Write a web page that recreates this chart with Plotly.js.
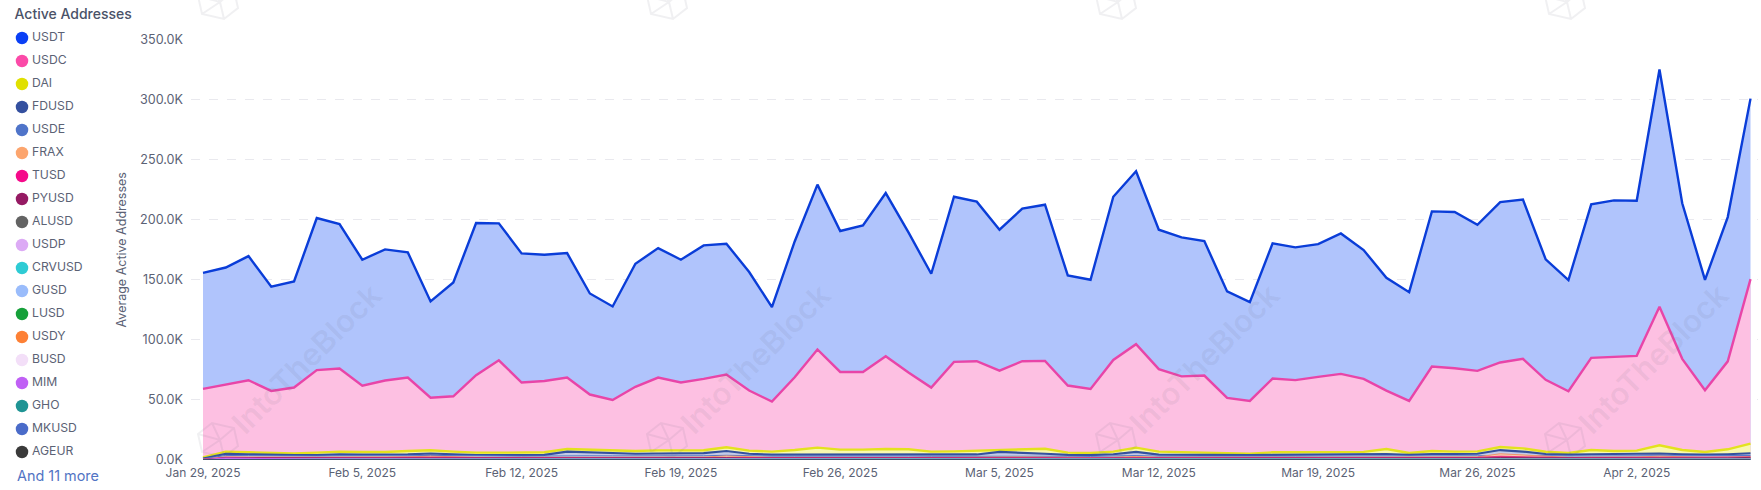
<!DOCTYPE html>
<html><head><meta charset="utf-8">
<script src="https://cdn.plot.ly/plotly-3.0.1.min.js"></script>
<style>html,body{margin:0;padding:0;background:#fff}#c{width:1761px;height:490px}</style></head>
<body><div id="c"></div>
<script>
const dates = ["2025-01-29","2025-01-30","2025-01-31",
"2025-02-01","2025-02-02","2025-02-03","2025-02-04","2025-02-05","2025-02-06","2025-02-07","2025-02-08","2025-02-09","2025-02-10","2025-02-11","2025-02-12","2025-02-13","2025-02-14","2025-02-15","2025-02-16","2025-02-17","2025-02-18","2025-02-19","2025-02-20","2025-02-21","2025-02-22","2025-02-23","2025-02-24","2025-02-25","2025-02-26","2025-02-27","2025-02-28",
"2025-03-01","2025-03-02","2025-03-03","2025-03-04","2025-03-05","2025-03-06","2025-03-07","2025-03-08","2025-03-09","2025-03-10","2025-03-11","2025-03-12","2025-03-13","2025-03-14","2025-03-15","2025-03-16","2025-03-17","2025-03-18","2025-03-19","2025-03-20","2025-03-21","2025-03-22","2025-03-23","2025-03-24","2025-03-25","2025-03-26","2025-03-27","2025-03-28","2025-03-29","2025-03-30","2025-03-31",
"2025-04-01","2025-04-02","2025-04-03","2025-04-04","2025-04-05","2025-04-06","2025-04-07"];
const tickDates = ["2025-01-29","2025-02-05","2025-02-12","2025-02-19","2025-02-26","2025-03-05","2025-03-12","2025-03-19","2025-03-26","2025-04-02"];
const tickLabels = ["Jan 29, 2025","Feb 5, 2025","Feb 12, 2025","Feb 19, 2025","Feb 26, 2025","Mar 5, 2025","Mar 12, 2025","Mar 19, 2025","Mar 26, 2025","Apr 2, 2025"];
const yTicks = [0,50000,100000,150000,200000,250000,300000,350000];
const yLabels = ["0.0K","50.0K","100.0K","150.0K","200.0K","250.0K","300.0K","350.0K"];

// values in thousands of addresses
const USDT = [155.8,160.2,169.7,144.2,148.6,201.4,196.4,166.7,175.3,172.8,132,147.8,197.2,197,172,170.8,172.2,138.6,127.8,163.3,176.4,166.7,178.6,180,156.5,127.2,181.9,229.2,190.6,195.3,222.2,189.4,155,219.1,215,191.7,209.2,212.5,153.6,150,219.1,240.3,191.7,185.3,182.2,140.3,131.4,180.3,177,179.7,188.6,174.7,151.7,139.7,206.9,206.4,195.8,214.7,216.7,167,149.7,212.8,216.1,215.8,325,213.7,150,202.2,300.8];
const USDC = [59.2,63,66.4,57.5,60.3,74.8,76.1,61.8,66.2,68.6,51.9,53,70.6,83,64.5,65.8,68.6,54.5,50,60.9,68.6,64.5,67.5,71.2,57.8,48.6,68.9,92,73.3,73.3,86.4,72.8,60.3,81.7,82.2,74.4,82.2,82.5,62,59.2,83.3,96.4,75.6,69.6,70.3,51.7,49.2,67.8,66.5,69.2,71.7,67.5,57.7,49.2,77.8,76.4,74.2,81.2,84.2,66.7,57.2,85,85.9,86.7,127.5,84.2,58.1,82.1,150.5];
const DAI = [2.2,7,6.4,5.8,5.5,6.1,7,6.7,6.7,7.5,8.1,7,6.1,6.1,6.1,6.4,9.2,8.6,8.1,7.5,8,8.1,8.1,10.6,7.8,7,8.3,10.3,8.6,8.6,9.2,8.9,7,7.2,7.8,8.6,8.6,9.4,6.1,5.8,7,10.3,7,6.7,6.1,5.5,5.3,6.4,6.6,7,7,6.8,9.2,5.8,7.5,7,7.2,10.8,9.7,6.9,5.8,8.3,7.5,7.8,12.2,8.3,6.7,8.9,13.6];
const FDUSD = [1.2,5.2,4.8,4.3,4,4.1,4.6,4.4,4.4,4.7,5.4,4.7,4.1,4,4,4.2,7,6.5,6,5.2,5.4,5.6,5.8,7.5,5.2,4.4,4.4,4.6,4.6,4.4,4.6,4.6,4.2,4.2,4.6,6.8,6.2,5.2,4.2,4,4.8,6.8,4.4,4.2,4.2,4.1,4,4.2,4.4,4.6,4.8,4.6,5,4.2,5,5,5.2,8.3,7,5,4.4,4.8,5,5.2,5.4,4.8,4.4,4.8,5.6];
const USDE = [1,3.8,3.6,3.4,3.2,3.3,3.5,3.4,3.4,3.5,3.8,3.5,3.2,3.2,3.2,3.3,3.6,3.5,3.4,3.3,3.4,3.4,3.5,3.9,3.4,3.2,3.2,3.3,3.3,3.2,3.3,3.3,3.1,3.1,3.3,3.7,3.5,3.3,3.1,3,3.3,3.7,3.2,3.1,3.1,3,3,3.1,3.2,3.3,3.3,3.3,3.5,3.1,3.4,3.4,3.5,3.9,3.7,3.3,3.1,3.3,3.4,3.4,3.6,3.3,3.1,3.3,3.7];
const FRAX = [0.6,2.6,2.5,2.3,2.2,2.3,2.5,2.4,2.4,2.6,3.2,2.6,2.3,2.2,2.2,2.3,2.5,2.4,2.4,2.3,2.4,2.4,2.5,3.4,2.5,2.2,2.2,2.3,2.3,2.2,2.4,2.4,2.2,2.2,2.3,2.9,2.6,2.4,2.1,2.1,2.3,3,2.3,2.2,2.2,2.1,2.1,2.2,2.3,2.3,2.4,2.3,2.5,2.1,2.4,2.4,2.6,5.2,4.2,2.6,2.2,2.4,2.4,2.5,3.2,2.5,2.2,2.4,2.8];
const TUSD = [0.5,2.2,2.1,2,1.9,2,2.1,2,2.1,2.2,2.4,2.2,1.9,1.9,2,2,2.2,2.1,2.1,2,2.1,2.1,2.1,2.5,2.1,1.9,1.9,2,2,1.9,2,2,1.9,1.9,2,2.3,2.2,2.1,1.8,1.8,2,2.4,2,1.9,1.9,1.8,1.8,1.9,2,2,2.1,2,2.2,1.8,2.1,2.1,2.2,3,2.6,2.1,1.9,2.1,2.1,2.2,2.5,2.1,1.9,2.1,2.5];
const PYUSD = [0.4,1.7,1.7,1.6,1.5,1.6,1.7,1.6,1.6,1.7,1.8,1.7,1.5,1.5,1.6,1.6,1.7,1.6,1.6,1.6,1.6,1.7,1.7,1.9,1.6,1.5,1.5,1.6,1.6,1.5,1.6,1.6,1.5,1.5,1.6,1.8,1.7,1.6,1.4,1.4,1.6,1.8,1.6,1.5,1.5,1.4,1.4,1.5,1.6,1.6,1.6,1.6,1.7,1.4,1.6,1.6,1.7,2.1,1.9,1.6,1.5,1.6,1.7,1.7,1.9,1.6,1.5,1.7,2.2];
const ALUSD = [0.3,1.2,1.2,1.1,1.1,1.1,1.2,1.2,1.2,1.2,1.3,1.2,1.1,1.1,1.1,1.1,1.2,1.2,1.2,1.1,1.2,1.2,1.2,1.3,1.2,1.1,1.1,1.1,1.1,1.1,1.2,1.2,1.1,1.1,1.1,1.3,1.2,1.2,1,1,1.1,1.3,1.1,1.1,1.1,1,1,1.1,1.1,1.1,1.2,1.1,1.2,1,1.1,1.1,1.2,1.4,1.3,1.1,1.1,1.1,1.2,1.2,1.3,1.2,1.1,1.2,1.4];
const USDP = [0.2,0.9,0.9,0.8,0.8,0.8,0.9,0.9,0.9,0.9,1,0.9,0.8,0.8,0.8,0.8,0.9,0.9,0.9,0.8,0.9,0.9,0.9,1,0.9,0.8,0.8,0.8,0.8,0.8,0.9,0.9,0.8,0.8,0.8,1,0.9,0.9,0.8,0.8,0.8,1,0.8,0.8,0.8,0.8,0.8,0.8,0.8,0.8,0.9,0.8,0.9,0.8,0.8,0.9,0.9,1,1,0.8,0.8,0.8,0.9,0.9,1,0.9,0.8,0.9,1];
const CRVUSD = [0.2,0.8,0.8,0.7,0.7,0.7,0.8,0.8,0.7,0.8,0.8,0.8,0.7,0.7,0.7,0.7,0.8,0.8,0.8,0.7,0.7,0.8,0.8,0.8,0.7,0.7,0.7,0.7,0.7,0.7,0.8,0.8,0.7,0.7,0.7,0.8,0.8,0.8,0.7,0.6,0.7,0.8,0.7,0.7,0.7,0.6,0.6,0.7,0.7,0.7,0.8,0.7,0.8,0.6,0.7,0.7,0.8,0.9,0.8,0.7,0.7,0.7,0.8,0.8,0.9,0.7,0.7,0.8,0.9];
const GUSD = [0.1,0.6,0.6,0.5,0.5,0.5,0.6,0.6,0.5,0.6,0.6,0.6,0.5,0.5,0.5,0.5,0.6,0.6,0.6,0.5,0.5,0.6,0.6,0.6,0.5,0.5,0.5,0.5,0.5,0.5,0.6,0.6,0.5,0.5,0.5,0.6,0.6,0.6,0.5,0.5,0.5,0.6,0.5,0.5,0.5,0.5,0.5,0.5,0.5,0.5,0.6,0.5,0.6,0.5,0.5,0.5,0.6,0.7,0.6,0.5,0.5,0.5,0.6,0.6,0.7,0.5,0.5,0.6,0.7];
const LUSD = [0.1,0.5,0.5,0.4,0.4,0.4,0.5,0.5,0.4,0.5,0.5,0.5,0.4,0.4,0.4,0.4,0.5,0.5,0.5,0.4,0.4,0.5,0.5,0.5,0.4,0.4,0.4,0.4,0.4,0.4,0.5,0.5,0.4,0.4,0.4,0.5,0.5,0.5,0.4,0.4,0.4,0.5,0.4,0.4,0.4,0.4,0.4,0.4,0.4,0.4,0.5,0.4,0.5,0.4,0.4,0.4,0.5,0.6,0.5,0.4,0.4,0.4,0.5,0.5,0.6,0.4,0.4,0.5,0.6];
const USDY = [0.1,0.4,0.4,0.3,0.3,0.3,0.4,0.4,0.3,0.4,0.4,0.4,0.3,0.3,0.3,0.3,0.4,0.4,0.4,0.3,0.3,0.4,0.4,0.4,0.3,0.3,0.3,0.3,0.3,0.3,0.4,0.4,0.3,0.3,0.3,0.4,0.4,0.4,0.3,0.3,0.3,0.4,0.3,0.3,0.3,0.3,0.3,0.3,0.3,0.3,0.4,0.3,0.4,0.3,0.3,0.3,0.4,0.5,0.4,0.3,0.3,0.3,0.4,0.4,0.5,0.3,0.3,0.4,0.5];
const BUSD = [0.1,0.3,0.3,0.3,0.2,0.2,0.3,0.3,0.3,0.3,0.3,0.3,0.2,0.2,0.2,0.3,0.3,0.3,0.3,0.2,0.3,0.3,0.3,0.3,0.3,0.2,0.2,0.2,0.3,0.2,0.3,0.3,0.2,0.2,0.3,0.3,0.3,0.3,0.2,0.2,0.3,0.3,0.2,0.2,0.2,0.2,0.2,0.2,0.3,0.3,0.3,0.3,0.3,0.2,0.3,0.3,0.3,0.4,0.3,0.3,0.2,0.3,0.3,0.3,0.4,0.3,0.2,0.3,0.4];
const MIM = [0.3,1.6,1.4,1,0.8,0.7,0.7,0.6,0.6,0.6,0.7,0.6,0.5,0.5,0.5,0.5,0.6,0.5,0.5,0.5,0.5,0.5,0.5,0.6,0.5,0.4,0.4,0.5,0.5,0.4,0.5,0.5,0.4,0.4,0.5,0.6,0.5,0.5,0.4,0.4,0.5,0.6,0.4,0.4,0.4,0.4,0.4,0.4,0.5,0.5,0.5,0.5,0.5,0.4,0.5,0.5,0.5,0.7,0.6,0.5,0.4,0.5,0.5,0.5,0.7,0.5,0.4,0.5,0.6];
const GHO = [0.1,0.3,0.3,0.2,0.2,0.2,0.3,0.2,0.2,0.3,0.3,0.2,0.2,0.2,0.2,0.2,0.3,0.3,0.3,0.2,0.2,0.3,0.3,0.3,0.2,0.2,0.2,0.2,0.2,0.2,0.3,0.3,0.2,0.2,0.2,0.3,0.3,0.3,0.2,0.2,0.2,0.3,0.2,0.2,0.2,0.2,0.2,0.2,0.2,0.2,0.3,0.2,0.3,0.2,0.2,0.2,0.3,0.3,0.3,0.2,0.2,0.2,0.3,0.3,0.3,0.2,0.2,0.3,0.3];
const MKUSD = [0.1,0.2,0.2,0.2,0.1,0.1,0.2,0.2,0.1,0.2,0.2,0.2,0.1,0.1,0.1,0.1,0.2,0.2,0.2,0.1,0.1,0.2,0.2,0.2,0.1,0.1,0.1,0.1,0.1,0.1,0.2,0.2,0.1,0.1,0.1,0.2,0.2,0.2,0.1,0.1,0.1,0.2,0.1,0.1,0.1,0.1,0.1,0.1,0.1,0.1,0.2,0.1,0.2,0.1,0.1,0.1,0.2,0.2,0.2,0.1,0.1,0.1,0.2,0.2,0.2,0.1,0.1,0.2,0.2];
const AGEUR = [0.1,0.1,0.1,0.1,0.1,0.1,0.1,0.1,0.1,0.1,0.1,0.1,0.1,0.1,0.1,0.1,0.1,0.1,0.1,0.1,0.1,0.1,0.1,0.1,0.1,0.1,0.1,0.1,0.1,0.1,0.1,0.1,0.1,0.1,0.1,0.1,0.1,0.1,0.1,0.1,0.1,0.1,0.1,0.1,0.1,0.1,0.1,0.1,0.1,0.1,0.1,0.1,0.1,0.1,0.1,0.1,0.1,0.1,0.1,0.1,0.1,0.1,0.1,0.1,0.1,0.1,0.1,0.1,0.1];

const names = ["USDT","USDC","DAI","FDUSD","USDE","FRAX","TUSD","PYUSD","ALUSD","USDP","CRVUSD","GUSD","LUSD","USDY","BUSD","MIM","GHO","MKUSD","AGEUR"];
const seriesValues = [USDT,USDC,DAI,FDUSD,USDE,FRAX,TUSD,PYUSD,ALUSD,USDP,CRVUSD,GUSD,LUSD,USDY,BUSD,MIM,GHO,MKUSD,AGEUR];
const swatches = ["#0a3ff5","#fb4aa8","#e0e000","#34509f","#4f74c9","#fca56e","#f50a8a","#951a63","#636363","#dcaaf5","#2ecbd4","#9abcfb","#16a03a","#fd8035","#f3dff8","#c060f5","#1f9494","#4a6bc9","#3a3a3a"];
const lines = ["#0a3dd8","#e845a8","#e3e21e","#34509f","#4f74c9","#f0956a","#e8347f","#951a63","#636363","#dcaaf5","#2ecbd4","#9abcfb","#16a03a","#fd8035","#f3dff8","#c060f5","#1f9494","#4a6bc9","#3a3a3a"];
const fills = ["#b0c4fc","#fdc0e2","#f8f8b0","#c3cbe6","#cbd6f0","#fcc9ae","#fca3cf","#c88aae","#a8a8a8","#eccff8","#a6e6ea","#c8daf9","#8fd09f","#fcc09b","#f7ecfa","#c98cf2","#8dc8c8","#a4b5e4","#8c8c8c"];
const lineW = [2.4,2.4,2.4,2.2,1,1,1.2,1,1,1,1,1,1,1,1,1,1,1,1];

const W=1761,H=490;
const traces = names.map((n,i)=>({
  type:'scatter',mode:'lines',name:n,x:dates,y:seriesValues[i].map(v=>v*1000),
  fill:'tozeroy',fillcolor:fills[i],line:{color:lines[i],width:lineW[i]},
  xaxis:'x',yaxis:'y',showlegend:false,hovertemplate:n+': %{y}<extra></extra>'
}));
// legend column drawn on its own small axes, one row per series
traces.push({
  type:'scatter',mode:'markers',x:names.map(()=>0),y:names.map((n,i)=>i),
  marker:{size:12.5,color:swatches},xaxis:'x2',yaxis:'y2',showlegend:false,hoverinfo:'skip',cliponaxis:false
});
traces.push({
  type:'scatter',mode:'text',x:names.map(()=>10),y:names.map((n,i)=>i),
  text:names,textposition:'middle right',textfont:{family:'Inter, sans-serif',size:12.2,color:'#5b6275'},
  xaxis:'x2',yaxis:'y2',showlegend:false,hoverinfo:'skip',cliponaxis:false
});

const wmText=[306,755,1204,1653];
const wmLogo=[[218,440],[667,440],[1116,440],[1565,440],[218,2],[667,2],[1116,2],[1565,2]];
const wmCol='rgba(110,110,125,0.10)';
function logoPath(cx,cy){
  const p=(x,y)=>`${(cx+x)/W} ${1-(cy+y)/H}`;
  const pts=[[-20,-6],[-6,-17],[16,-12],[20,6],[6,17],[-16,12]];
  let d='M'+pts.map(q=>p(q[0],q[1])).join(' L')+' Z';
  d+=' M'+p(-20,-6)+' L'+p(2,0)+' L'+p(16,-12)+' M'+p(2,0)+' L'+p(6,17)+' M'+p(-6,-17)+' L'+p(2,0)+' L'+p(-16,12);
  return d;
}
const layout = {
  width:W,height:H,margin:{l:0,r:0,t:0,b:0},paper_bgcolor:'#fff',plot_bgcolor:'#fff',showlegend:false,
  font:{family:'Inter, sans-serif',size:12,color:'#5b6275'},
  title:{text:'Active Addresses',x:14.5/W,xanchor:'left',xref:'paper',y:1-14.5/H,yanchor:'middle',yref:'paper',
    font:{family:'Inter, sans-serif',size:14,weight:500,color:'#4a5268'}},
  xaxis:{domain:[191/W,1758/W],type:'date',range:['2025-01-28 11:21','2025-04-07 07:54'],tickmode:'array',tickvals:tickDates,ticktext:tickLabels,
    showgrid:false,zeroline:false,showline:false,ticks:'',ticklabelstandoff:4,tickfont:{size:12,color:'#5b6275'},anchor:'y',fixedrange:true},
  yaxis:{domain:[30/H,1-39.5/H],range:[0,350000],tickmode:'array',tickvals:yTicks,ticktext:yLabels,
    showgrid:true,gridcolor:'#e9e9ee',griddash:'dash',gridwidth:1,zeroline:false,showline:false,ticks:'',ticklen:0,ticklabelstandoff:7,
    tickfont:{size:12.6,color:'#5b6275'},anchor:'x',fixedrange:true,
    title:{text:'Average Active Addresses',font:{size:12.5,color:'#5b6275'},standoff:10}},
  xaxis2:{domain:[0,180/W],range:[-22,158],visible:false,anchor:'y2',fixedrange:true},
  yaxis2:{domain:[0,1],range:[(490-38)/23,-38/23],visible:false,anchor:'x2',fixedrange:true},
  annotations:[
    {text:'And 11 more',xref:'paper',yref:'paper',x:15/W,y:1-475/H,xanchor:'left',yanchor:'middle',showarrow:false,font:{size:14.4,color:'#5274c4'}}
  ].concat(wmText.map(px=>({text:'IntoTheBlock',xref:'paper',yref:'paper',x:px/W,y:1-358/H,xanchor:'center',yanchor:'middle',showarrow:false,textangle:-45,font:{size:31,weight:600,color:wmCol}}))),
  shapes:wmLogo.map(q=>({type:'path',xref:'paper',yref:'paper',path:logoPath(q[0],q[1]),line:{color:wmCol,width:2},layer:'above'}))
};
Plotly.newPlot('c',traces,layout,{displayModeBar:false,staticPlot:true});
</script></body></html>
